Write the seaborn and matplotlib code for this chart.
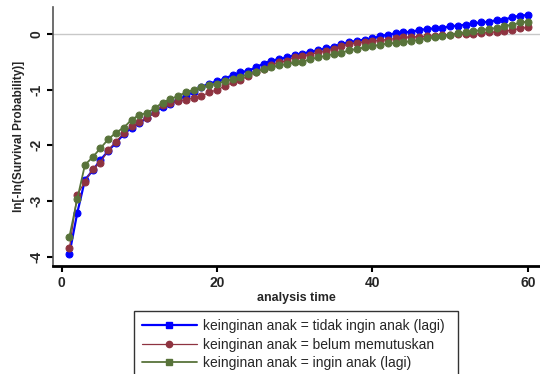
import numpy as np
import pandas as pd
import matplotlib
matplotlib.use("Agg")
import matplotlib.pyplot as plt
from matplotlib.lines import Line2D
import seaborn as sns

sns.set_style("white")
plt.rcParams['font.family'] = ['Liberation Sans', 'DejaVu Sans']

time = list(range(1, 61))

tidak_ingin = [-3.95, -3.22, -2.62, -2.45, -2.26, -2.10, -1.95, -1.80, -1.68, -1.60,
               -1.50, -1.40, -1.31, -1.25, -1.18, -1.11, -1.04, -0.95, -0.89, -0.85,
               -0.80, -0.74, -0.69, -0.66, -0.60, -0.53, -0.48, -0.45, -0.42, -0.38,
               -0.35, -0.32, -0.29, -0.26, -0.23, -0.18, -0.15, -0.12, -0.10, -0.08,
               -0.04, -0.01, 0.01, 0.03, 0.04, 0.07, 0.09, 0.10, 0.11, 0.14,
               0.15, 0.17, 0.19, 0.21, 0.22, 0.25, 0.26, 0.30, 0.33, 0.34]

belum = [-3.85, -2.89, -2.65, -2.42, -2.31, -2.08, -1.93, -1.78, -1.66, -1.58,
         -1.50, -1.41, -1.28, -1.23, -1.20, -1.18, -1.15, -1.11, -1.05, -1.00,
         -0.94, -0.87, -0.83, -0.75, -0.69, -0.62, -0.56, -0.51, -0.48, -0.42,
         -0.39, -0.37, -0.33, -0.31, -0.27, -0.22, -0.18, -0.16, -0.14, -0.13,
         -0.11, -0.10, -0.08, -0.06, -0.05, -0.05, -0.04, -0.03, -0.02, -0.01,
         0.00, 0.00, 0.00, 0.01, 0.03, 0.04, 0.05, 0.07, 0.10, 0.12]

ingin = [-3.64, -2.97, -2.35, -2.21, -2.05, -1.89, -1.77, -1.68, -1.54, -1.45,
         -1.42, -1.33, -1.23, -1.17, -1.11, -1.05, -1.00, -0.96, -0.92, -0.89,
         -0.85, -0.81, -0.78, -0.71, -0.68, -0.63, -0.60, -0.56, -0.54, -0.51,
         -0.50, -0.45, -0.42, -0.39, -0.36, -0.34, -0.29, -0.27, -0.24, -0.22,
         -0.19, -0.17, -0.16, -0.14, -0.13, -0.10, -0.08, -0.06, -0.03, -0.01,
         0.01, 0.03, 0.05, 0.07, 0.09, 0.11, 0.15, 0.16, 0.21, 0.22]

labels = ["keinginan anak = tidak ingin anak (lagi)",
          "keinginan anak = belum memutuskan",
          "keinginan anak = ingin anak (lagi)"]
colors = ["#0000FF", "#8E3340", "#58733A"]
legend_markers = ["s", "o", "s"]
lws = [1.6, 0.9, 1.3]

xticks = [0, 20, 40, 60]
yticks = [0, -1, -2, -3, -4]

fig = plt.figure(figsize=(5.40, 3.74), dpi=100)
fig.patch.set_facecolor("white")
ax = fig.add_axes([53/540, 1-266/374, 1-53/540, (266-7)/374])

ax.axhline(0, color="#C8C8C8", lw=1.0, zorder=0)

series = [tidak_ingin, belum, ingin]
for vals, lab, c, lw in zip(series, labels, colors, lws):
    df = pd.DataFrame({"t": time, "v": vals})
    sns.lineplot(data=df, x="t", y="v", ax=ax, color=c, marker="o", markersize=5,
                 markeredgecolor=c, lw=lw, legend=False)

ax.set_xlim(-1.11, 61.57)
ax.set_ylim(-4.165, 0.485)
ax.set_xticks(xticks)
ax.set_yticks(yticks)
ax.set_xticklabels([str(x) for x in xticks], fontsize=10, fontweight="bold")
ax.set_yticklabels([str(y) for y in yticks], fontsize=10, fontweight="bold",
                   rotation=90, va="center")
ax.tick_params(axis="both", direction="out", length=4, width=1.5, color="black",
               bottom=True, left=True, pad=3)
for s in ["top", "right"]:
    ax.spines[s].set_visible(False)
ax.spines["left"].set_color("#555555")
ax.spines["left"].set_linewidth(1.2)
ax.spines["bottom"].set_color("black")
ax.spines["bottom"].set_linewidth(2.0)

ax.set_xlabel("analysis time", fontsize=9, fontweight="bold", labelpad=2)
ax.set_ylabel("ln[-ln(Survival Probability)]", fontsize=8.5, fontweight="bold", labelpad=3)

handles = [Line2D([], [], color=c, lw=lw, marker=m, markersize=4.5, markeredgecolor=c)
           for c, lw, m in zip(colors, lws, legend_markers)]
leg = fig.legend(handles, labels, loc="upper left",
                 bbox_to_anchor=(134/540, 0, 324/540, 1-311/374), mode="expand",
                 fontsize=10, frameon=True, fancybox=False, edgecolor="black",
                 handlelength=3.9, handletextpad=0.5, borderpad=0.6,
                 labelspacing=0.3, borderaxespad=0)
leg.get_frame().set_linewidth(1.0)

fig.savefig("out.png", dpi=100, facecolor="white")
